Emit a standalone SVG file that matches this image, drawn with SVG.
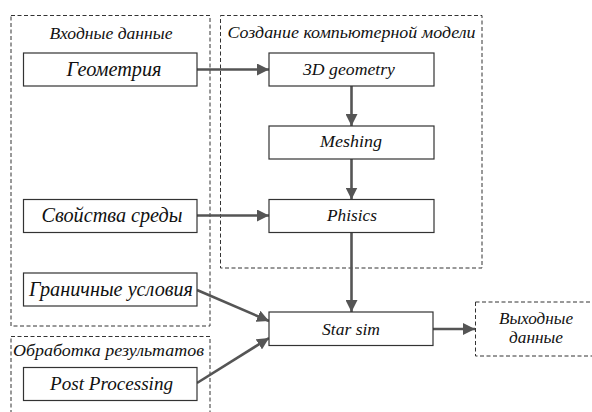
<svg xmlns="http://www.w3.org/2000/svg" width="592" height="412" viewBox="0 0 592 412">
<style>
.grp{fill:none;stroke:#333;stroke-width:1;stroke-dasharray:4 2.5}
.box{fill:#fff;stroke:#333;stroke-width:1.2}
.t{font-family:'Liberation Serif','Times New Roman',serif;font-style:italic;fill:#111;text-anchor:middle}
.edge{stroke:#555;stroke-width:2.6;fill:none;marker-end:url(#ah)}
</style>
<defs>
<marker id="ah" viewBox="0 0 12 12" refX="12" refY="6" markerWidth="12" markerHeight="12" markerUnits="userSpaceOnUse" orient="auto">
<path d="M0,0 L12,6 L0,12 Z" fill="#555"/>
</marker>
</defs>
<rect width="592" height="412" fill="#fff"/>

<g id="group-input">
<rect class="grp" x="11" y="15.5" width="199" height="310.5"/>
<text class="t" font-family="Liberation Serif" x="111" y="38.5" font-size="17.5" textLength="123" lengthAdjust="spacingAndGlyphs">Входные данные</text>
</g>
<g id="group-model">
<rect class="grp" x="220.5" y="15.5" width="261.5" height="252.5"/>
<text class="t" font-family="Liberation Serif" x="351.5" y="37.5" font-size="17.5" textLength="248" lengthAdjust="spacingAndGlyphs">Создание компьютерной модели</text>
</g>
<g id="group-post">
<rect class="grp" x="11" y="336.5" width="199" height="90"/>
<text class="t" font-family="Liberation Serif" x="108.5" y="356" font-size="17.5" textLength="191" lengthAdjust="spacingAndGlyphs">Обработка результатов</text>
</g>

<g id="connectors">
<line class="edge" x1="197" y1="69.5" x2="269" y2="69.5"/>
<line class="edge" x1="351.5" y1="86" x2="351.5" y2="126"/>
<line class="edge" x1="351.5" y1="159" x2="351.5" y2="199.5"/>
<line class="edge" x1="197" y1="215.5" x2="269" y2="215.5"/>
<line class="edge" x1="351.5" y1="232.5" x2="351.5" y2="312"/>
<line class="edge" x1="197" y1="290" x2="269" y2="321"/>
<line class="edge" x1="197" y1="383" x2="269" y2="338"/>
<line class="edge" x1="433" y1="329" x2="475" y2="329"/>
</g>

<g id="node-geometria">
<rect class="box" x="23.5" y="53" width="173.5" height="33"/>
<text class="t" font-family="Liberation Serif" x="114" y="75.5" font-size="20" textLength="95" lengthAdjust="spacingAndGlyphs">Геометрия</text>
</g>
<g id="node-svoistva">
<rect class="box" x="23.5" y="199.5" width="173.5" height="33"/>
<text class="t" font-family="Liberation Serif" x="112" y="222" font-size="20" textLength="141" lengthAdjust="spacingAndGlyphs">Свойства среды</text>
</g>
<g id="node-granichnye">
<rect class="box" x="23.5" y="273" width="173.5" height="33"/>
<text class="t" font-family="Liberation Serif" x="111" y="295.5" font-size="20" textLength="164" lengthAdjust="spacingAndGlyphs">Граничные условия</text>
</g>
<g id="node-postprocessing">
<rect class="box" x="23.5" y="367.5" width="173.5" height="33"/>
<text class="t" font-family="Liberation Serif" x="111.5" y="390" font-size="19.5" textLength="123" lengthAdjust="spacingAndGlyphs">Post Processing</text>
</g>
<g id="node-3dgeometry">
<rect class="box" x="269" y="53" width="165" height="33"/>
<text class="t" font-family="Liberation Serif" x="349" y="74.5" font-size="17.5" textLength="92" lengthAdjust="spacingAndGlyphs">3D geometry</text>
</g>
<g id="node-meshing">
<rect class="box" x="269" y="126" width="165" height="33"/>
<text class="t" font-family="Liberation Serif" x="351" y="147" font-size="17.5" textLength="62" lengthAdjust="spacingAndGlyphs">Meshing</text>
</g>
<g id="node-phisics">
<rect class="box" x="269" y="199.5" width="165" height="33"/>
<text class="t" font-family="Liberation Serif" x="352" y="221" font-size="17.5" textLength="50" lengthAdjust="spacingAndGlyphs">Phisics</text>
</g>
<g id="node-starsim">
<rect class="box" x="269" y="312" width="164" height="33.5"/>
<text class="t" font-family="Liberation Serif" x="351" y="335" font-size="17.5" textLength="58" lengthAdjust="spacingAndGlyphs">Star sim</text>
</g>
<g id="node-output">
<rect class="grp" x="475.5" y="302" width="130" height="54"/>
<text class="t" font-family="Liberation Serif" x="536" y="324" font-size="17.5" textLength="74" lengthAdjust="spacingAndGlyphs">Выходные</text>
<text class="t" font-family="Liberation Serif" x="536" y="343" font-size="17.5" textLength="54" lengthAdjust="spacingAndGlyphs">данные</text>
</g>
</svg>
